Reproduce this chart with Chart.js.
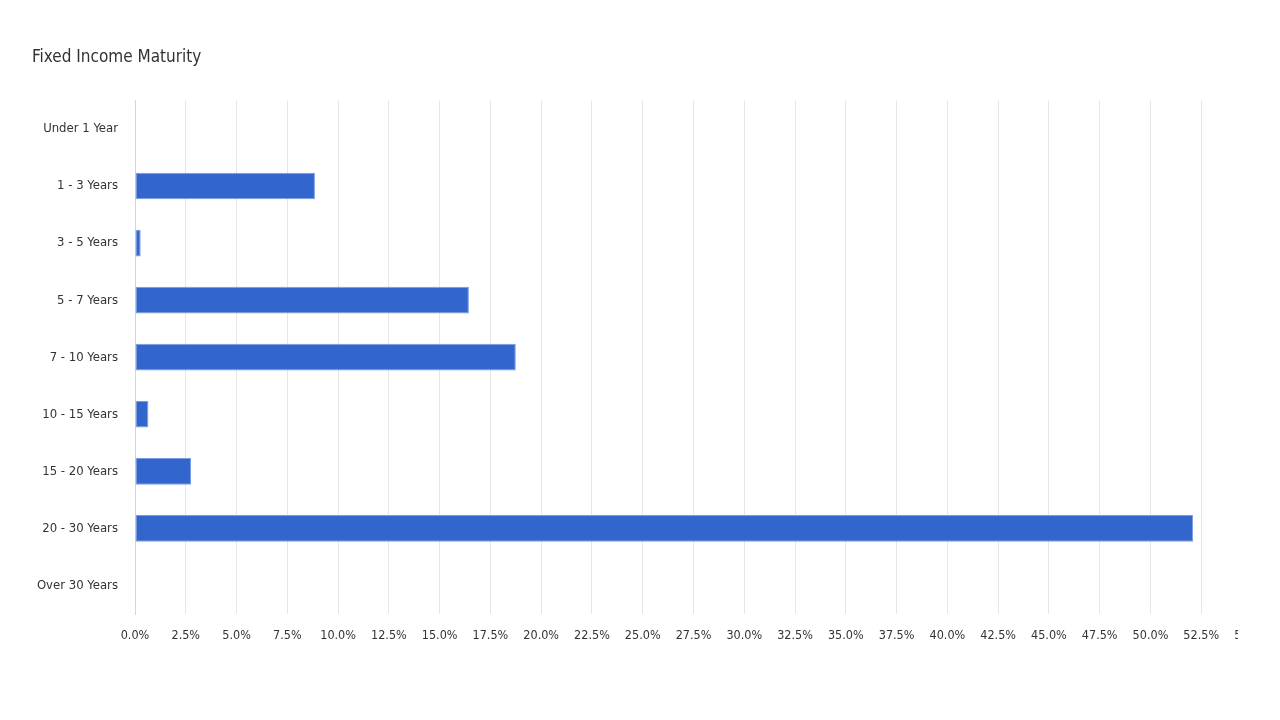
<!DOCTYPE html>
<html>
<head>
<meta charset="utf-8">
<title>Fixed Income Maturity</title>
<script src="https://cdn.jsdelivr.net/npm/chart.js@4"></script>
<style>
  html, body { margin: 0; padding: 0; background: #fff; overflow: hidden; }
  /* the chart is wider than its frame, so the last tick label gets cut off */
  #frame { position: absolute; left: 0; top: 0; width: 1238px; height: 720px; overflow: hidden; }
  #box { position: absolute; left: 0; top: 0; width: 1300px; height: 720px; }
</style>
</head>
<body>
<div id="frame"><div id="box"><canvas id="chart"></canvas></div></div>
<script>
// Maturity buckets and their share of the portfolio (%)
const categories = [
    'Under 1 Year', '1 - 3 Years', '3 - 5 Years', '5 - 7 Years', '7 - 10 Years',
    '10 - 15 Years', '15 - 20 Years', '20 - 30 Years', 'Over 30 Years'
];
const weights = [0, 8.86, 0.28, 16.44, 18.75, 0.66, 2.76, 52.1, 0];

// x axis range
const xMin = 0;
const xMax = 55;
const xStep = 2.5;

const fontFamily = '"Liberation Sans Narrow", "DejaVu Sans Condensed", "Liberation Sans", sans-serif';
const textColor = '#333333';

const ctx = document.getElementById('chart').getContext('2d');
new Chart(ctx, {
    type: 'bar',
    data: {
        labels: categories,
        datasets: [{
            label: 'Fixed Income Maturity',
            data: weights,
            backgroundColor: '#3366cc',
            borderColor: '#7b9be3',
            borderWidth: 1,
            borderSkipped: false,
            categoryPercentage: 1,
            barPercentage: 0.467
        }]
    },
    options: {
        indexAxis: 'y',
        responsive: true,
        maintainAspectRatio: false,
        animation: false,
        layout: {
            padding: { left: 32, right: 48, top: 0, bottom: 63 }
        },
        plugins: {
            legend: { display: false },
            tooltip: { enabled: false },
            title: {
                display: true,
                text: 'Fixed Income Maturity',
                align: 'start',
                color: textColor,
                font: { family: fontFamily, size: 17, weight: 'normal' },
                padding: { top: 47, bottom: 33 }
            }
        },
        scales: {
            x: {
                type: 'linear',
                min: xMin,
                max: xMax,
                grid: { color: '#e6e6e6', lineWidth: 1, drawTicks: false },
                border: { display: false },
                ticks: {
                    stepSize: xStep,
                    autoSkip: false,
                    maxRotation: 0,
                    padding: 14,
                    color: textColor,
                    font: { family: fontFamily, size: 12.5 },
                    callback: v => v.toFixed(1) + '%'
                }
            },
            y: {
                grid: { display: false, drawTicks: false },
                border: { display: true, color: '#ccd6eb', width: 1 },
                ticks: {
                    padding: 17,
                    color: textColor,
                    font: { family: fontFamily, size: 13 }
                },
                afterFit: function(scale) {
                    scale.width = 103;
                }
            }
        }
    }
});
</script>
</body>
</html>
